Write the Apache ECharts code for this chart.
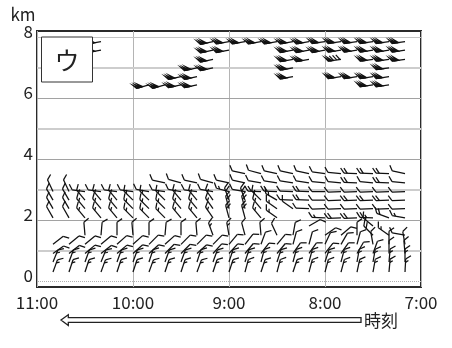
<!DOCTYPE html>
<html><head><meta charset="utf-8">
<script src="https://cdn.jsdelivr.net/npm/echarts@6/dist/echarts.min.js"></script>
<style>html,body{margin:0;padding:0;background:#fff}#c{width:452px;height:348px}</style>
</head><body><div id="c"></div>
<script>
const _ = null;
// observation times (columns, left to right)
const times = ["10:50","10:40","10:30","10:20","10:10","10:00","9:50","9:40","9:30","9:20","9:10","9:00","8:50","8:40","8:30","8:20","8:10","8:00","7:50","7:40","7:30","7:20","7:10"];
// heights of rows (km)
const levels = [0.29,0.62,0.9,1.2,1.5,1.8,2.07,2.37,2.65,2.93,3.22,3.52,6.43,6.70,6.99,7.27,7.57,7.85];
// wind direction (deg, from) per row
const dirByLevel = [
  [20,18,18,20,18,18,20,18,18,20,18,18,15,18,15,18,15,15,15,12,10,5,3],
  [22,20,20,22,20,20,18,20,20,18,20,18,18,15,18,15,15,18,15,10,10,5,0],
  [55,52,50,52,50,48,48,45,45,48,42,42,40,38,40,35,35,38,35,30,20,0,355],
  [52,50,50,50,48,48,45,48,45,45,45,40,38,20,40,15,15,25,30,15,350,0,350],
  [_,_,355,5,0,355,0,5,0,355,340,350,345,355,335,10,_,55,50,0,315,305,280],
  [_,_,_,_,_,_,_,_,_,_,_,_,_,_,_,_,60,_,_,_,310,_,_],
  [330,330,320,320,320,315,315,315,320,320,325,345,345,320,305,_,_,272,268,268,272,290,280],
  [330,330,320,320,320,315,315,315,320,320,325,345,345,320,305,305,272,268,268,268,268,268,268],
  [330,330,320,320,320,315,315,315,320,320,325,340,340,315,300,272,272,270,268,268,268,268,268],
  [335,335,278,278,278,278,280,278,280,278,280,285,280,272,272,272,272,270,268,268,268,268,268],
  [_,_,_,_,_,_,_,282,285,282,285,282,282,280,278,278,278,275,275,272,275,272,275],
  [_,_,_,_,_,_,_,_,_,_,_,_,282,285,282,282,282,278,275,272,272,272,282],
  [_,_,_,_,_,_,255,255,258,258,_,_,_,_,_,_,_,_,_,_,262,262,_],
  [_,_,_,_,_,_,_,_,258,258,_,_,_,_,_,260,_,_,262,262,262,262,_],
  [_,_,_,_,_,_,_,_,_,258,258,_,_,_,_,260,_,_,_,_,_,262,_],
  [_,_,_,_,_,_,_,_,_,_,258,_,_,_,_,260,260,_,262,_,262,262,262],
  [_,_,_,260,_,_,_,_,_,_,258,260,_,_,_,260,260,260,262,262,262,262,262],
  [_,_,_,260,_,_,_,_,_,_,258,260,260,260,260,260,260,262,262,262,262,262,262]
];
// wind speed (kt) per row
const spdByLevel = [
  [15,15,15,15,15,15,15,15,15,15,15,15,15,15,15,15,15,15,15,15,15,15,15],
  [15,15,15,15,15,15,15,15,15,15,15,15,15,15,15,15,15,15,15,15,15,15,15],
  [10,10,10,10,10,10,10,10,10,10,10,10,10,10,10,10,10,10,10,10,10,10,10],
  [10,10,10,10,10,10,10,10,10,10,10,10,10,10,10,10,10,10,10,10,10,10,10],
  [_,_,10,10,10,10,10,10,10,10,15,15,10,10,10,10,_,10,10,10,20,15,10],
  [_,_,_,_,_,_,_,_,_,_,_,_,_,_,_,_,10,_,_,_,15,_,_],
  [10,10,15,15,15,15,15,15,15,15,15,20,20,15,15,_,_,15,20,20,25,20,15],
  [10,10,15,15,15,15,15,15,15,15,15,20,20,15,15,10,10,10,10,10,10,10,10],
  [10,10,15,15,15,15,15,15,15,15,15,20,20,15,15,10,20,10,10,20,20,20,10],
  [10,10,10,10,10,10,10,10,10,10,10,15,10,20,20,10,20,10,10,10,10,10,10],
  [_,_,_,_,_,_,_,10,10,10,10,10,10,10,10,10,10,10,10,20,10,20,10],
  [_,_,_,_,_,_,_,_,_,_,_,_,10,10,10,10,10,10,10,20,20,20,10],
  [_,_,_,_,_,_,150,150,150,150,_,_,_,_,_,_,_,_,_,_,150,150,_],
  [_,_,_,_,_,_,_,_,150,150,_,_,_,_,_,150,_,_,150,150,150,150,_],
  [_,_,_,_,_,_,_,_,_,150,150,_,_,_,_,150,_,_,_,_,_,150,_],
  [_,_,_,_,_,_,_,_,_,_,150,_,_,_,_,150,150,_,130,_,150,150,150],
  [_,_,_,150,_,_,_,_,_,_,150,150,_,_,_,150,150,150,150,150,150,150,150],
  [_,_,_,150,_,_,_,_,_,_,150,150,150,150,150,150,150,150,150,150,150,150,150]
];
const xTickLabels = ["7:00","8:00","9:00","10:00","11:00"];
const yTickLabels = [0,2,4,6,8];
const gridKm = [0,1,2,3,4,5,6,7,8];

function toHour(t){ const p = t.split(':'); return +p[0] + (+p[1])/60; }
const barbData = [];
levels.forEach((h, li) => {
  times.forEach((t, ci) => {
    const d = dirByLevel[li][ci], s = spdByLevel[li][ci];
    if (d != null && s != null) barbData.push([toHour(t), h, d, s]);
  });
});

function renderBarb(params, api) {
  const p = api.coord([api.value(0), api.value(1)]);
  const d = api.value(2) * Math.PI / 180;
  let s = Math.round(api.value(3) / 5) * 5;
  const ux = Math.sin(d), uy = -Math.cos(d);
  const L = 13, B = 6.2, G = 3.3, PW = 2.2, PH = 4.8;
  const b = d + 55 * Math.PI / 180;
  const bx = Math.sin(b), by = -Math.cos(b);
  const tx = p[0] + ux * L, ty = p[1] + uy * L;
  const st = { stroke: '#111', lineWidth: 1.25, fill: 'none' };
  const ch = [{ type: 'line', shape: { x1: p[0], y1: p[1], x2: tx, y2: ty }, style: st }];
  let pos = 0;
  while (s >= 50) {
    const ax = tx - ux * pos, ay = ty - uy * pos;
    const cx = ax - ux * PW, cy = ay - uy * PW;
    ch.push({ type: 'polygon', shape: { points: [[ax, ay], [ax + bx * PH, ay + by * PH], [cx, cy]] }, style: st });
    pos += PW; s -= 50;
  }
  if (pos > 0) pos += 1;
  while (s >= 10) {
    const ax = tx - ux * pos, ay = ty - uy * pos;
    ch.push({ type: 'line', shape: { x1: ax, y1: ay, x2: ax + bx * B, y2: ay + by * B }, style: st });
    pos += G; s -= 10;
  }
  if (s >= 5) {
    if (pos === 0) pos = G;
    const ax = tx - ux * pos, ay = ty - uy * pos;
    ch.push({ type: 'line', shape: { x1: ax, y1: ay, x2: ax + bx * B * 0.55, y2: ay + by * B * 0.55 }, style: st });
  }
  return { type: 'group', children: ch };
}

const FONT = '"Noto Sans CJK JP", "Noto Sans", sans-serif';
const chart = echarts.init(document.getElementById('c'), null, { renderer: 'canvas' });
const gridLineStyle = v => {
  if (v === 0) return { color: '#b0b0b0', width: 1, type: 'dotted' };
  if (v === 8) return { color: '#c4c4c4', width: 1, type: 'solid' };
  if (v % 2 === 1) return { color: '#cdcdcd', width: 2, type: 'solid' };
  return { color: '#a2a2a2', width: 1, type: 'solid' };
};
chart.setOption({
  animation: false,
  backgroundColor: '#fff',
  grid: { left: 37, top: 31, width: 384, height: 256, show: true, borderColor: '#2a2a2a', borderWidth: 2, backgroundColor: '#fff', z: 0 },
  xAxis: {
    type: 'value', min: 7, max: 11, interval: 1, inverse: true,
    axisLine: { show: false }, axisTick: { show: false },
    splitLine: { show: true, lineStyle: { color: '#b4b4b4', width: 1 } },
    axisLabel: { show: true, margin: 7, color: '#222', fontSize: 17, fontFamily: FONT, showMinLabel: true, showMaxLabel: true,
      formatter: v => xTickLabels[Math.round(v) - 7] }
  },
  yAxis: {
    type: 'value', min: -0.2, max: 8.2,
    axisLine: { show: false }, axisTick: { show: false }, splitLine: { show: false },
    axisLabel: { show: true, customValues: yTickLabels, margin: 4, color: '#222', fontSize: 17, fontFamily: FONT,
      formatter: v => '{a|' + v + '}',
      rich: { a: { fontSize: 17, fontFamily: FONT, color: '#222', padding: [0, 0, 11, 0] } } }
  },
  series: [
    {
      type: 'line', data: [], silent: true, z: 1,
      markLine: {
        silent: true, z: 1, symbol: ['none', 'none'], label: { show: false }, animation: false,
        data: gridKm.map(v => ({ yAxis: v, lineStyle: gridLineStyle(v) }))
      }
    },
    {
      type: 'custom', z: 3, clip: false,
      dimensions: ['t', 'h', 'dir', 'spd'],
      encode: { x: 0, y: 1 },
      renderItem: renderBarb,
      data: barbData
    }
  ],
  graphic: [
    { type: 'text', z: 50, style: { text: 'km', x: 23, y: 15, textAlign: 'center', textVerticalAlign: 'middle', font: '17px ' + FONT, fill: '#222' } },
    { type: 'rect', z: 100, shape: { x: 41.5, y: 37, width: 51, height: 45 }, style: { fill: '#fff', stroke: '#333', lineWidth: 1 } },
    { type: 'text', z: 101, style: { text: 'ウ', x: 67, y: 60, textAlign: 'center', textVerticalAlign: 'middle', font: '25px ' + FONT, fill: '#222' } },
    { type: 'polygon', z: 50, shape: { points: [[61, 320], [68.3, 314.7], [68.3, 317.6], [361, 317.6], [361, 322.4], [68.3, 322.4], [68.3, 325.5]] },
      style: { fill: '#fff', stroke: '#222', lineWidth: 1.3 } },
    { type: 'text', z: 50, style: { text: '時刻', x: 364, y: 321, textAlign: 'left', textVerticalAlign: 'middle', font: '17px ' + FONT, fill: '#222' } }
  ]
});
</script>
</body></html>
